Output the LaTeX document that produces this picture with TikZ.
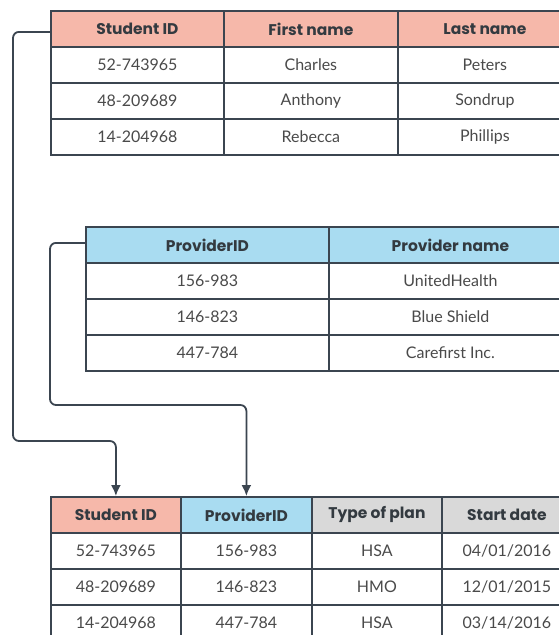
\documentclass[tikz,border=0pt]{standalone}
\usepackage{fontspec}
\setmainfont{Lato}
\newfontfamily\headfont{Poppins}
\usetikzlibrary{arrows.meta}
\definecolor{salmon}{HTML}{F6B8AA}
\definecolor{skyb}{HTML}{A9DCF1}
\definecolor{greyh}{HTML}{D9D9D9}
\definecolor{edge}{HTML}{3B4550}
\definecolor{bodytxt}{HTML}{4A4A4A}
\definecolor{headtxt}{HTML}{333A40}
\begin{document}
\begin{tikzpicture}[x=1pt,y=-1pt,
  cell/.style={draw=edge,line width=1.8pt,anchor=north west,inner sep=0pt,
    minimum height=36pt,text=bodytxt,font=\fontsize{16}{18}\selectfont},
  hcell/.style={cell,text=headtxt,font=\headfont\fontsize{15.5}{18}\selectfont\bfseries},
  conn/.style={draw=edge,line width=1.8pt,rounded corners=6pt},
  tip/.style={-{Latex[length=11pt,width=10pt]}}]
\useasboundingbox (0,0) rectangle (559,635);
\clip (0,0) rectangle (559,635);
\fill[white] (0,0) rectangle (559,635);
% Table 1
\node[hcell,fill=salmon,minimum width=173pt] (t1h1) at (50,10) {Student ID};
\node[hcell,fill=salmon,minimum width=174pt] (t1h2) at (223,10) {First name};
\node[hcell,fill=salmon,minimum width=174pt] (t1h3) at (397,10) {Last name};
\node[cell,minimum width=173pt] (t1a1) at (50,46) {52-743965};
\node[cell,minimum width=174pt] (t1a2) at (223,46) {Charles};
\node[cell,minimum width=174pt] (t1a3) at (397,46) {Peters};
\node[cell,minimum width=173pt] (t1b1) at (50,82) {48-209689};
\node[cell,minimum width=174pt] (t1b2) at (223,82) {Anthony};
\node[cell,minimum width=174pt] (t1b3) at (397,82) {Sondrup};
\node[cell,minimum width=173pt] (t1c1) at (50,118) {14-204968};
\node[cell,minimum width=174pt] (t1c2) at (223,118) {Rebecca};
\node[cell,minimum width=174pt] (t1c3) at (397,118) {Phillips};
% Table 2
\node[hcell,fill=skyb,minimum width=243pt] (t2h1) at (85,226) {ProviderID};
\node[hcell,fill=skyb,minimum width=243pt] (t2h2) at (328,226) {Provider name};
\node[cell,minimum width=243pt] (t2a1) at (85,262) {156-983};
\node[cell,minimum width=243pt] (t2a2) at (328,262) {UnitedHealth};
\node[cell,minimum width=243pt] (t2b1) at (85,298) {146-823};
\node[cell,minimum width=243pt] (t2b2) at (328,298) {Blue Shield};
\node[cell,minimum width=243pt] (t2c1) at (85,334) {447-784};
\node[cell,minimum width=243pt] (t2c2) at (328,334) {Carefirst Inc.};
% Table 3
\node[hcell,fill=salmon,minimum width=130pt] (t3h1) at (50,496) {Student ID};
\node[hcell,fill=skyb,minimum width=131pt] (t3h2) at (180,496) {ProviderID};
\node[hcell,fill=greyh,minimum width=130pt] (t3h3) at (311,496) {Type of plan};
\node[hcell,fill=greyh,minimum width=130pt] (t3h4) at (441,496) {Start date};
\node[cell,minimum width=130pt] (t3a1) at (50,532) {52-743965};
\node[cell,minimum width=131pt] (t3a2) at (180,532) {156-983};
\node[cell,minimum width=130pt] (t3a3) at (311,532) {HSA};
\node[cell,minimum width=130pt] (t3a4) at (441,532) {04/01/2016};
\node[cell,minimum width=130pt] (t3b1) at (50,568) {48-209689};
\node[cell,minimum width=131pt] (t3b2) at (180,568) {146-823};
\node[cell,minimum width=130pt] (t3b3) at (311,568) {HMO};
\node[cell,minimum width=130pt] (t3b4) at (441,568) {12/01/2015};
\node[cell,minimum width=130pt] (t3c1) at (50,604) {14-204968};
\node[cell,minimum width=131pt] (t3c2) at (180,604) {447-784};
\node[cell,minimum width=130pt] (t3c3) at (311,604) {HSA};
\node[cell,minimum width=130pt] (t3c4) at (441,604) {03/14/2016};
% connectors
\coordinate (c1) at (13,441);
\coordinate (c2) at (50,405);
\draw[conn,tip] ([yshift=-3pt]t1h1.west) -| (c1) -| (t3h1.north);
\draw[conn,tip] ([yshift=2pt]t2h1.west) -| (c2) -| (t3h2.north);
\end{tikzpicture}
\end{document}
